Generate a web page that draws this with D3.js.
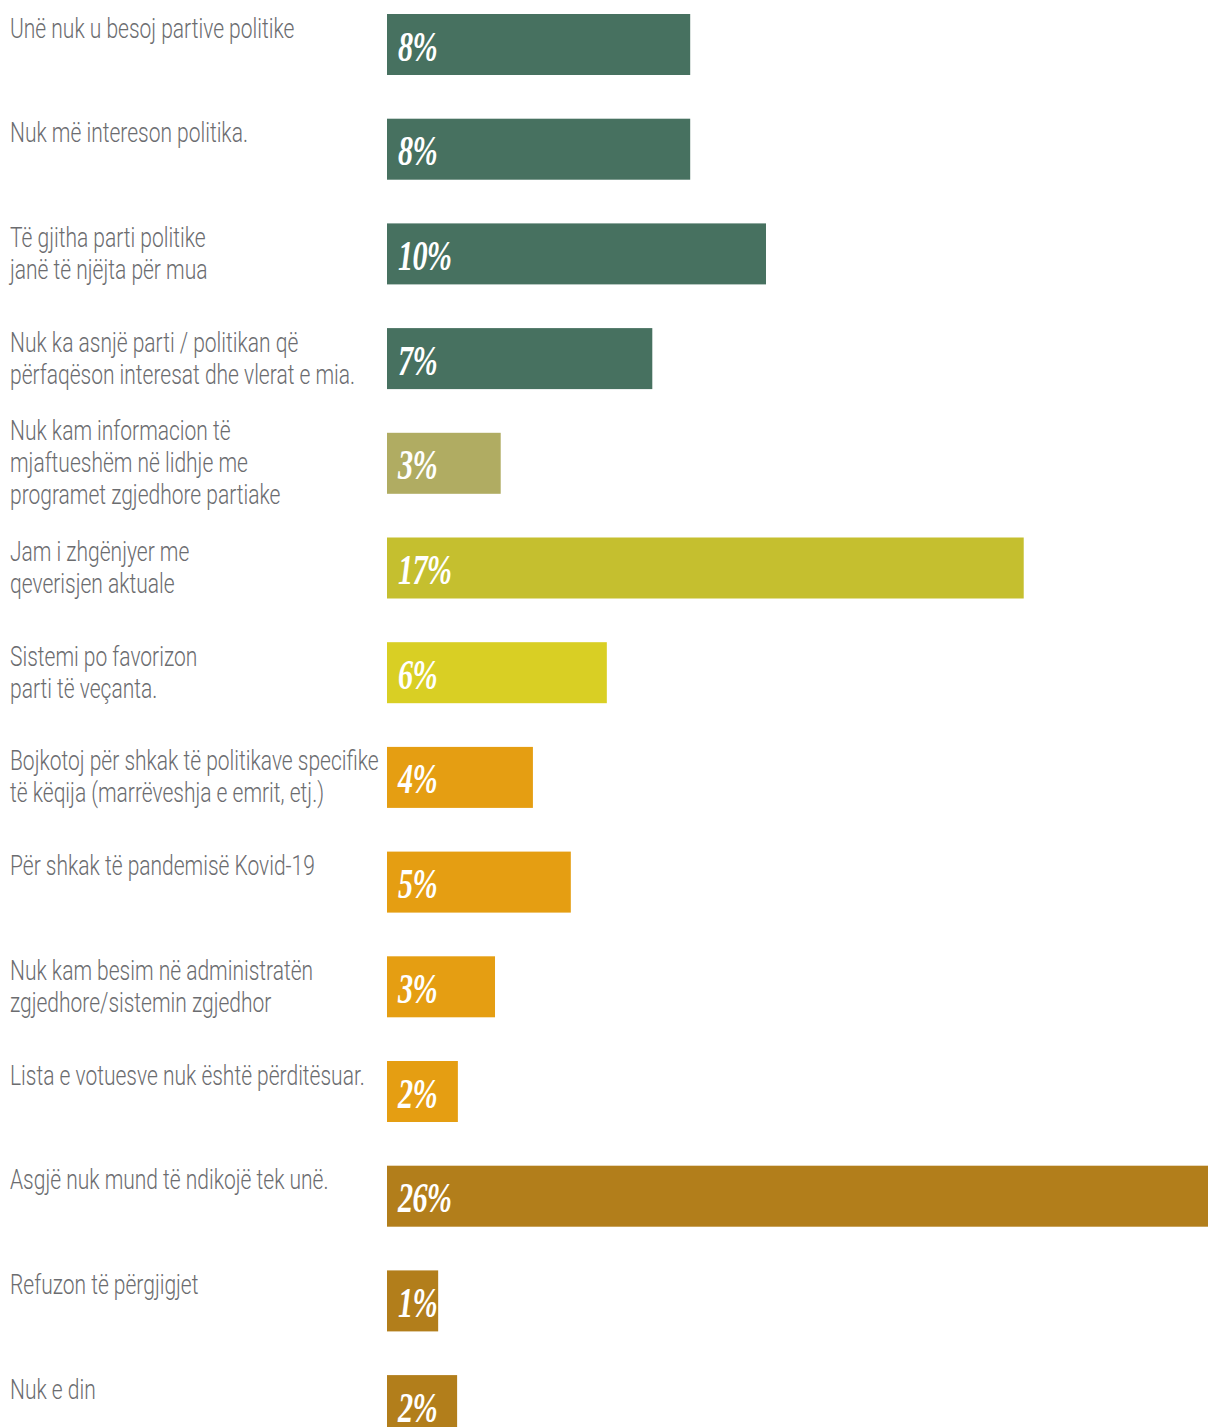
<!DOCTYPE html>
<html>
<head>
<meta charset="utf-8">
<script src="https://cdn.jsdelivr.net/npm/d3@7"></script>
<style>
  html, body { margin: 0; padding: 0; background: #ffffff; }
  svg { display: block; }
</style>
</head>
<body>
<div id="chart"></div>
<script>
// ---- Data ----
const categories = [
  "Unë nuk u besoj partive politike",
  "Nuk më intereson politika.",
  "Të gjitha parti politike\njanë të njëjta për mua",
  "Nuk ka asnjë parti / politikan që\npërfaqëson interesat dhe vlerat e mia.",
  "Nuk kam informacion të\nmjaftueshëm në lidhje me\nprogramet zgjedhore partiake",
  "Jam i zhgënjyer me\nqeverisjen aktuale",
  "Sistemi po favorizon\nparti të veçanta.",
  "Bojkotoj për shkak të politikave specifike\ntë këqija (marrëveshja e emrit, etj.)",
  "Për shkak të pandemisë Kovid-19",
  "Nuk kam besim në administratën\nzgjedhore/sistemin zgjedhor",
  "Lista e votuesve nuk është përditësuar.",
  "Asgjë nuk mund të ndikojë tek unë.",
  "Refuzon të përgjigjet",
  "Nuk e din"
];
const values = [8.0, 8.0, 10.0, 7.0, 3.0, 16.8, 5.8, 3.85, 4.85, 2.85, 1.87, 26.0, 1.35, 1.85];
const valueLabels = ["8%", "8%", "10%", "7%", "3%", "17%", "6%", "4%", "5%", "3%", "2%", "26%", "1%", "2%"];
const groups = ["g1","g1","g1","g1","g2","g3","g4","g5","g5","g5","g5","g6","g6","g6"];
const groupKeys = ["g1","g2","g3","g4","g5","g6"];
const groupColors = ["#477160", "#B0AC62", "#C5BF2F", "#D9CF24", "#E59E12", "#B27E1B"];

// ---- Layout ----
const W = 1208, H = 1427;
const x0 = 387;
const step = 104.7, barH = 61, top0 = 14;
const n = categories.length;

const svg = d3.select("#chart").append("svg")
  .attr("width", W).attr("height", H);

const x = d3.scaleLinear().domain([0, 10]).range([x0, x0 + 379]);
const y = d3.scaleBand().domain(d3.range(n))
  .range([top0, top0 + step * (n - 1) + barH])
  .paddingInner(1 - barH / step)
  .paddingOuter(0);
const color = d3.scaleOrdinal().domain(groupKeys).range(groupColors);

const rows = svg.append("g").selectAll("g.row")
  .data(categories.map((c, i) => ({ c, i, v: values[i], l: valueLabels[i], g: groups[i] })))
  .join("g").attr("class", "row");

rows.append("rect")
  .attr("x", x(0))
  .attr("y", d => y(d.i))
  .attr("width", d => x(d.v) - x(0))
  .attr("height", y.bandwidth())
  .attr("fill", d => color(d.g));

rows.append("text")
  .attr("transform", d => `translate(${x(0) + 11},${y(d.i) + y.bandwidth() / 2 + 16}) scale(0.72,1)`)
  .attr("font-family", "'Liberation Serif', 'DejaVu Serif', serif")
  .attr("font-style", "italic")
  .attr("font-weight", "bold")
  .attr("font-size", 42)
  .attr("letter-spacing", -1)
  .attr("fill", "#ffffff")
  .text(d => d.l);

// category labels
const labelScale = 0.75;
const lineH = 32;
rows.append("text")
  .attr("transform", d => {
    const k = d.c.split("\n").length;
    const center = y(d.i) + y.bandwidth() / 2;
    const firstCenter = center - (lineH / 2) * Math.max(k, 2) + lineH / 2;
    return `translate(10,${firstCenter + 9}) scale(${labelScale},1)`;
  })
  .attr("font-family", "Roboto, 'Open Sans', sans-serif")
  .attr("font-weight", 300)
  .attr("font-size", 28)
  .attr("fill", "#6b6c6f")
  .selectAll("tspan")
  .data(d => d.c.split("\n"))
  .join("tspan")
  .attr("x", 0)
  .attr("dy", (t, j) => j === 0 ? 0 : lineH)
  .text(t => t);
</script>
</body>
</html>
